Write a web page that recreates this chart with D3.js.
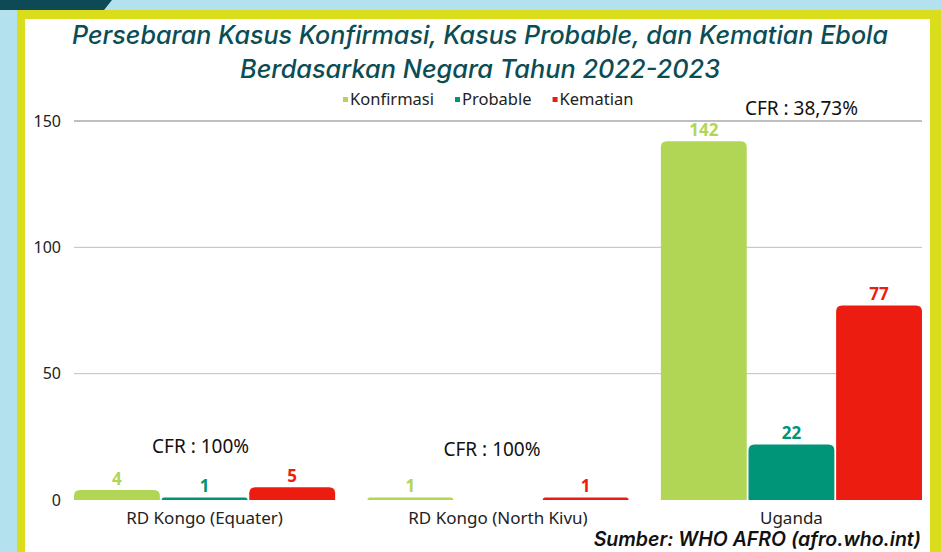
<!DOCTYPE html>
<html>
<head>
<meta charset="utf-8">
<script src="https://cdn.jsdelivr.net/npm/d3@7"></script>
<style>
  body { margin: 0; background: #b3e1ee; }
  svg { display: block; }
</style>
</head>
<body>
<svg id="chart" width="941" height="552"></svg>
<script>
// data
const categories = ["RD Kongo (Equater)", "RD Kongo (North Kivu)", "Uganda"];
const seriesNames = ["Konfirmasi", "Probable", "Kematian"];
const konfirmasi = [4, 1, 142];
const probable = [1, 0, 22];
const kematian = [5, 1, 77];
const cfrLabels = ["CFR : 100%", "CFR : 100%", "CFR : 38,73%"];
const yTicks = [0, 50, 100, 150];
const titleLines = [
  "Persebaran Kasus Konfirmasi, Kasus Probable, dan Kematian Ebola",
  "Berdasarkan Negara Tahun 2022-2023"
];
const sourceText = "Sumber: WHO AFRO (afro.who.int)";

const colors = { Konfirmasi: "#b1d656", Probable: "#009479", Kematian: "#ec1c10" };
const seriesValues = { Konfirmasi: konfirmasi, Probable: probable, Kematian: kematian };

const svg = d3.select("#chart");

// --- frame / background ---
svg.append("rect").attr("width", 941).attr("height", 552).attr("fill", "#b3e1ee");
svg.append("path").attr("d", "M0,0H112L104,10H0Z").attr("fill", "#0d4a55");
svg.append("rect").attr("x", 17).attr("y", 10).attr("width", 940).attr("height", 560).attr("fill", "#d9dd1c");
svg.append("rect").attr("x", 25).attr("y", 19).attr("width", 905).attr("height", 540).attr("fill", "#ffffff");

// --- title ---
svg.selectAll(".title")
  .data(titleLines)
  .enter()
  .append("text")
  .attr("class", "title")
  .attr("x", 480)
  .attr("y", (d, i) => 44 + i * 34)
  .attr("text-anchor", "middle")
  .attr("font-family", "Inter, 'Noto Sans', sans-serif")
  .attr("font-style", "italic")
  .attr("font-weight", 500)
  .attr("font-size", "25px")
  .attr("fill", "#0b4d55")
  .attr("textLength", (d, i) => i === 0 ? 816 : 480)
  .attr("lengthAdjust", "spacingAndGlyphs")
  .text(d => d);

// --- scales ---
const plot = { left: 74, right: 922, top: 121, bottom: 500 };

const yScale = d3.scaleLinear().domain([0, 150]).range([plot.bottom, plot.top]);
const x0 = d3.scaleBand().domain(categories).range([plot.left, plot.right])
  .paddingInner(0.11).paddingOuter(0);
const x1 = d3.scaleBand().domain(seriesNames).range([0, x0.bandwidth()]).paddingInner(0.02);

// gridlines
svg.append("g")
  .selectAll("line")
  .data(yTicks.filter(t => t > 0))
  .enter()
  .append("line")
  .attr("x1", plot.left).attr("x2", plot.right)
  .attr("y1", d => yScale(d)).attr("y2", d => yScale(d))
  .attr("stroke", "#bfbfbf")
  .attr("stroke-width", d => d === 150 ? 2 : 1);

// y axis labels
const yAxis = d3.axisLeft(yScale).tickValues(yTicks).tickSize(0).tickPadding(0);
const yAxisGroup = svg.append("g").attr("transform", "translate(61,0)").call(yAxis);
yAxisGroup.select(".domain").remove();
yAxisGroup.selectAll("text")
  .attr("font-family", "'Noto Sans', sans-serif")
  .attr("font-size", "16px")
  .attr("fill", "#222");

// x axis labels
const xAxis = d3.axisBottom(x0).tickSize(0).tickPadding(0);
const xAxisGroup = svg.append("g").attr("transform", `translate(0,${plot.bottom + 12})`).call(xAxis);
xAxisGroup.select(".domain").remove();
xAxisGroup.selectAll("text")
  .attr("font-family", "'Noto Sans', sans-serif")
  .attr("font-size", "17px")
  .attr("fill", "#222");

// bars with rounded top corners
function topRounded(x, y, w, h, r) {
  r = Math.min(r, h, w / 2);
  return `M${x},${y + h}V${y + r}Q${x},${y} ${x + r},${y}H${x + w - r}Q${x + w},${y} ${x + w},${y + r}V${y + h}Z`;
}

const rows = categories.map((c, i) => ({
  category: c,
  values: seriesNames.map(s => ({ series: s, value: seriesValues[s][i] }))
}));

const groups = svg.append("g")
  .selectAll("g")
  .data(rows)
  .enter()
  .append("g")
  .attr("transform", d => `translate(${x0(d.category)},0)`);

groups.selectAll("path")
  .data(d => d.values.filter(v => v.value > 0))
  .enter()
  .append("path")
  .attr("d", d => topRounded(x1(d.series), yScale(d.value), x1.bandwidth(), plot.bottom - yScale(d.value), 6))
  .attr("fill", d => colors[d.series]);

groups.selectAll("text")
  .data(d => d.values.filter(v => v.value > 0))
  .enter()
  .append("text")
  .attr("x", d => x1(d.series) + x1.bandwidth() / 2)
  .attr("y", d => yScale(d.value) - 5)
  .attr("text-anchor", "middle")
  .attr("font-family", "'Noto Sans', sans-serif")
  .attr("font-weight", "bold")
  .attr("font-size", "17px")
  .attr("fill", d => colors[d.series])
  .text(d => d.value);

// CFR labels, sitting above each group's tallest bar
const cfrNudge = [[-4, 0], [-6, -7], [10, 8]];
svg.append("g")
  .selectAll("text")
  .data(rows)
  .enter()
  .append("text")
  .attr("x", (d, i) => x0(d.category) + x0.bandwidth() / 2 + cfrNudge[i][0])
  .attr("y", (d, i) => yScale(d3.max(d.values, v => v.value)) - 34 + cfrNudge[i][1])
  .attr("text-anchor", "middle")
  .attr("font-family", "'Noto Sans', sans-serif")
  .attr("font-size", "19px")
  .attr("fill", "#111")
  .text((d, i) => cfrLabels[i]);

// legend
const legend = svg.append("g").attr("transform", "translate(343,100)");
let lx = 0;
seriesNames.forEach(s => {
  const item = legend.append("g").attr("transform", `translate(${lx},0)`);
  item.append("rect").attr("x", 0).attr("y", -3).attr("width", 5).attr("height", 5).attr("fill", colors[s]);
  const t = item.append("text")
    .attr("x", 7).attr("y", 5)
    .attr("font-family", "'Noto Sans', sans-serif")
    .attr("font-size", "16.5px")
    .attr("fill", "#222")
    .text(s);
  lx += 7 + t.node().getComputedTextLength() + 21;
});

// source
svg.append("text")
  .attr("x", 921)
  .attr("y", 546)
  .attr("text-anchor", "end")
  .attr("font-family", "Inter, 'Noto Sans', sans-serif")
  .attr("font-style", "italic")
  .attr("font-weight", 600)
  .attr("font-size", "19.5px")
  .attr("fill", "#111")
  .text(sourceText);
</script>
</body>
</html>
